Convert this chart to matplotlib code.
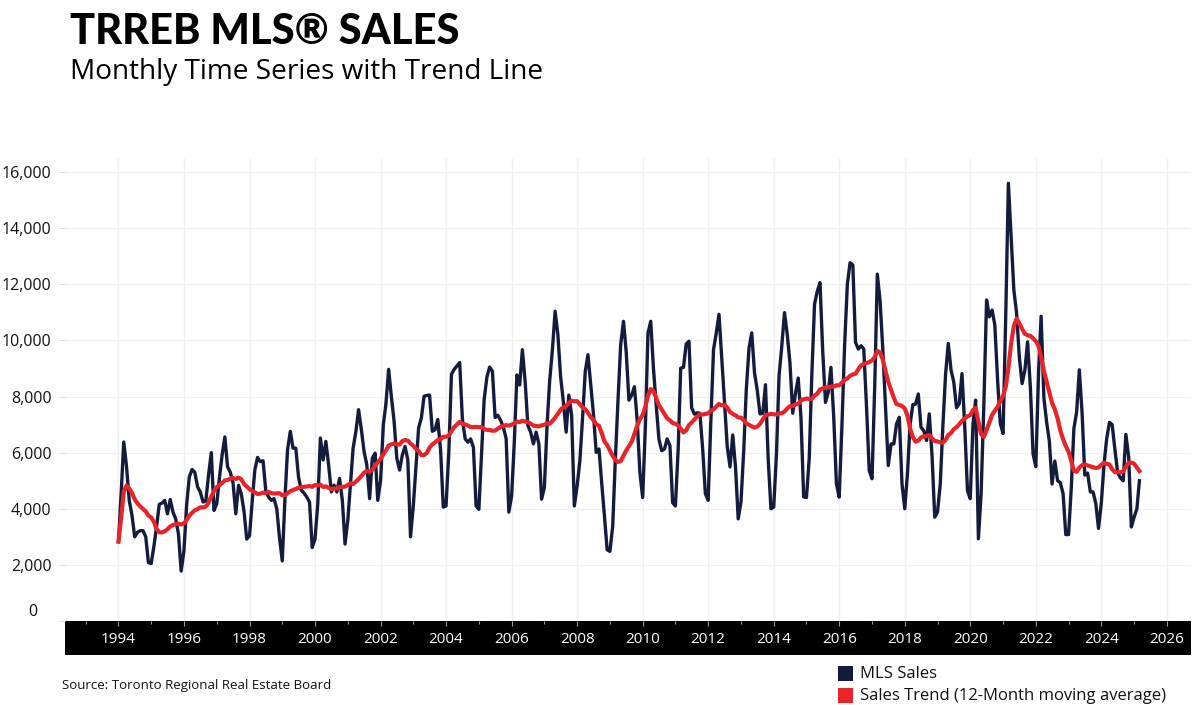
import matplotlib as mpl

mpl.use("Agg")

import matplotlib.dates as mdates
import matplotlib.pyplot as plt
import pandas as pd
from matplotlib.patches import Rectangle
from matplotlib.ticker import FuncFormatter, MultipleLocator

# Monthly TRREB MLS sales, Jan 1994 - Mar 2025
sales_1990s = [
    2830, 4600, 6380, 5500, 4300, 3760, 3000, 3160, 3220, 3220, 3000, 2080,  # 1994
    2050, 2680, 3340, 4160, 4200, 4300, 3820, 4330, 3880, 3640, 3100, 1780,  # 1995
    2500, 4180, 5140, 5400, 5300, 4780, 4600, 4240, 4280, 5200, 6000, 3940,  # 1996
    4180, 5140, 5900, 6560, 5500, 5300, 4930, 3820, 4840, 4540, 3900, 2920,  # 1997
    3040, 4300, 5380, 5830, 5680, 5710, 4660, 4420, 4300, 4360, 4000, 2980,  # 1998
    2140, 4420, 6100, 6760, 6160, 6160, 5140, 4660, 4560, 4420, 4240, 2620,  # 1999
]
sales_2000s = [
    2920, 4180, 6520, 5740, 6400, 5560, 4600, 4840, 4600, 5080, 4300, 2740,  # 2000
    3600, 4960, 6160, 6760, 7530, 6820, 6040, 5560, 4360, 5800, 5980, 4300,  # 2001
    5000, 7000, 7710, 8970, 8010, 7110, 5800, 5380, 5920, 6220, 5740, 3000,  # 2002
    4100, 5560, 6880, 7240, 8010, 8040, 8050, 6760, 6820, 7180, 6100, 4060,  # 2003
    4100, 6020, 8790, 8970, 9090, 9210, 7210, 6490, 6370, 6490, 6190, 4100,  # 2004
    3980, 6000, 7900, 8700, 9050, 8900, 7250, 7330, 7150, 6900, 6500, 3880,  # 2005
    4450, 6440, 8770, 8410, 9670, 8530, 6970, 6730, 6310, 6730, 6310, 4340,  # 2006
    4750, 7030, 8550, 9670, 11040, 10200, 8710, 7810, 6730, 8050, 7330, 4100,  # 2007
    4800, 5710, 7190, 8890, 9490, 8410, 7390, 6010, 6130, 4930, 3740, 2540,  # 2008
    2480, 3380, 5650, 7870, 9850, 10680, 9610, 7870, 8050, 8350, 7150, 5300,  # 2009
]
sales_2010s = [
    4400, 7000, 10260, 10680, 9010, 7690, 6490, 6070, 6130, 6490, 6250, 4220,  # 2010
    4100, 6130, 9010, 9040, 9870, 9970, 7600, 7370, 7420, 7400, 6130, 4540,  # 2011
    4300, 7200, 9680, 10270, 10930, 9380, 7820, 6210, 5490, 6630, 5490, 3640,  # 2012
    4240, 6090, 8240, 9740, 10270, 8840, 8240, 7380, 7400, 8420, 5730, 4000,  # 2013
    4060, 5970, 8720, 9800, 10990, 10210, 9200, 7405, 8120, 8660, 7230, 4420,  # 2014
    4400, 5800, 8700, 11290, 11740, 12060, 9630, 7790, 8150, 9040, 7260, 4890,  # 2015
    4415, 7000, 9800, 12000, 12770, 12690, 9930, 9690, 9810, 9690, 7610, 5360,  # 2016
    5070, 8490, 12360, 11400, 9690, 7610, 5540, 6310, 6310, 7020, 7260, 4890,  # 2017
    4000, 5300, 7000, 7710, 7730, 8090, 6900, 6780, 6430, 7380, 5900, 3700,  # 2018
    3880, 4900, 6900, 8800, 9890, 8940, 8520, 7600, 7750, 8820, 6900, 4650,  # 2019
]
sales_2020s = [
    4360, 7035, 7870, 2930, 4535, 7750, 11440, 10840, 11080, 10545, 8580, 7035,  # 2020
    6680, 11080, 15600, 13700, 11800, 10960, 9410, 8460, 8940, 9950, 8345, 5960,  # 2021
    5500, 8900, 10860, 7950, 7100, 6400, 4880, 5700, 5000, 4930, 4540, 3080,  # 2022
    3080, 4780, 6850, 7450, 8950, 7400, 5200, 5270, 4600, 4600, 4180, 3300,  # 2023
    4200, 5610, 6500, 7080, 7000, 6100, 5300, 5100, 5000, 6650, 5850, 3350,  # 2024
    3700, 4000, 5000,  # 2025
]

NAVY = "#141c3e"
RED = "#e8232a"
GRID = "#efefef"
TEXT = "#111111"

plt.rcParams["font.family"] = ["Open Sans", "DejaVu Sans"]

sales = pd.Series(sales_1990s + sales_2000s + sales_2010s + sales_2020s)
months = pd.date_range("1994-01-01", periods=len(sales), freq="MS")
trend = sales.rolling(12, min_periods=1).mean()

W, H = 1200, 705
fig = plt.figure(figsize=(W / 100, H / 100), dpi=100)


def fx(px):
    return px / W


def fy(py):
    return 1 - py / H


ax = fig.add_axes([fx(65), fy(621), fx(1191) - fx(65), (621 - 158) / H])

ax.plot(months, sales, color=NAVY, lw=2.4, zorder=3)
ax.plot(months, trend, color=RED, lw=3.0, zorder=4)

ax.set_xlim(pd.Timestamp("1992-05-15"), pd.Timestamp("2026-09-27"))
ax.set_ylim(0, 16500)

for side in ["top", "right", "left", "bottom"]:
    ax.spines[side].set_visible(False)

ax.yaxis.set_major_locator(MultipleLocator(2000))
ax.yaxis.set_major_formatter(FuncFormatter(lambda v, _: "" if v == 0 else f"{v:,.0f}"))
ax.tick_params(axis="y", length=4.3, width=0.8, color="#dcdcdc", pad=5.5,
               labelsize=11.5, labelcolor=TEXT)

ax.xaxis.set_major_locator(mdates.YearLocator(2))
ax.xaxis.set_minor_locator(mdates.YearLocator(1))
ax.xaxis.set_major_formatter(mdates.DateFormatter("%Y"))
ax.tick_params(axis="x", which="major", length=3.5, width=0.8, color="#9a9a9a",
               pad=4.5, labelsize=11, labelcolor="white")
ax.tick_params(axis="x", which="minor", length=2.2, width=0.8, color="#9a9a9a")

ax.grid(True, which="major", axis="both", color=GRID, lw=0.9, zorder=0)
ax.set_axisbelow(True)

# black axis band under the plot
fig.add_artist(Rectangle((fx(65), fy(655)), fx(1191) - fx(65), 34 / H,
                         transform=fig.transFigure, facecolor="black",
                         edgecolor="none", zorder=-1))

fig.text(fx(33), fy(612), "0", ha="center", va="center", fontsize=11.5, color=TEXT)

fig.text(fx(70), fy(44), "TRREB MLS® SALES", fontsize=30, fontweight="black",
         family=["Lato", "DejaVu Sans"], color="black", va="baseline")
fig.text(fx(70), fy(79), "Monthly Time Series with Trend Line", fontsize=20.2,
         color="black", va="baseline")

fig.text(fx(62), fy(685), "Source: Toronto Regional Real Estate Board",
         fontsize=9.5, color=TEXT, va="center")

for y_px, color, label in [(666, NAVY, "MLS Sales"),
                           (688, RED, "Sales Trend (12-Month moving average)")]:
    fig.add_artist(Rectangle((fx(838), fy(y_px + 15)), 15 / W, 15 / H,
                             transform=fig.transFigure, facecolor=color,
                             edgecolor="none"))
    fig.text(fx(860), fy(y_px + 7.5), label, fontsize=12, color=TEXT, va="center")

fig.savefig("out.png", dpi=100)
